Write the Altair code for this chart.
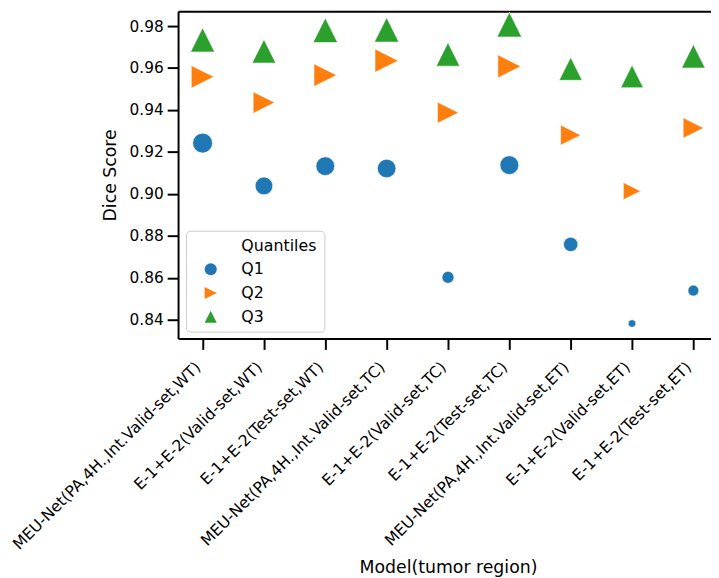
import altair as alt
import pandas as pd

categories = [
    "MEU-Net(PA,4H.,Int.Valid-set,WT)",
    "E-1+E-2(Valid-set,WT)",
    "E-1+E-2(Test-set,WT)",
    "MEU-Net(PA,4H.,Int.Valid-set,TC)",
    "E-1+E-2(Valid-set,TC)",
    "E-1+E-2(Test-set,TC)",
    "MEU-Net(PA,4H.,Int.Valid-set,ET)",
    "E-1+E-2(Valid-set,ET)",
    "E-1+E-2(Test-set,ET)",
]
q1 = [0.9242, 0.9038, 0.9132, 0.9121, 0.8602, 0.9137, 0.8759, 0.8382, 0.8539]
q2 = [0.9558, 0.9435, 0.9566, 0.9635, 0.9387, 0.9608, 0.9280, 0.9013, 0.9314]
q3 = [0.9734, 0.9680, 0.9780, 0.9782, 0.9665, 0.9807, 0.9596, 0.9560, 0.9656]
quantiles = ["Q1", "Q2", "Q3"]
legend_heading = "Quantiles"
colors = ["#1f77b4", "#ff7f0e", "#2ca02c"]
shapes = ["circle", "M1,0L-1,-1L-1,1Z", "M0,-1L1,1L-1,1Z"]
yticks = [0.84, 0.86, 0.88, 0.90, 0.92, 0.94, 0.96, 0.98]

rows = []
for i, c in enumerate(categories):
    for qn, vals in zip(quantiles, [q1, q2, q3]):
        rows.append({"idx": i, "model": c, "Quantiles": qn, "dice": vals[i]})
df = pd.DataFrame(rows)
allv = q1 + q2 + q3

label_expr = "[" + ",".join("'" + c + "'" for c in categories) + "][datum.value]"

W = 539
H = 331
STEP = 62.045
xscale = alt.Scale(domain=[-0.4, -0.4 + W / STEP], nice=False, zero=False)
yscale = alt.Scale(domain=[0.83104, 0.98707], nice=False, zero=False)
FONT = "DejaVu Sans"

# seaborn-style legend: the heading is an entry with an invisible marker
leg_domain = [legend_heading] + quantiles
leg_colors = ["rgba(0,0,0,0)"] + colors
leg_shapes = ["circle"] + shapes

legend = alt.Legend(
    title=None,
    orient="none",
    legendX=8,
    legendY=222,
    padding=7,
    symbolOffset=10,
    labelOffset=23,
    labelFontSize=16,
    labelColor="black",
    labelLimit=300,
    symbolSize=150,
    symbolStrokeWidth=0,
    rowPadding=8,
    strokeColor="#cccccc",
    fillColor="rgba(255,255,255,0.8)",
    cornerRadius=4,
    labelFont=FONT,
)

points = alt.Chart(df).mark_point(
    filled=True, opacity=1, stroke="white", strokeWidth=0.6
).encode(
    x=alt.X(
        "idx:Q",
        scale=xscale,
        axis=alt.Axis(
            values=list(range(len(categories))),
            labelExpr=label_expr,
            labelAngle=-45,
            labelAlign="right",
            labelBaseline="middle",
            labelOffset=-5,
            labelPadding=15,
            labelLimit=500,
            labelFlush=False,
            labelOverlap=False,
            tickSize=11,
            tickWidth=2,
            tickColor="black",
            domainWidth=2,
            domainColor="black",
            labelFontSize=15.8,
            labelColor="black",
            labelFont=FONT,
            title="Model(tumor region)",
            titleFont=FONT,
            titleFontSize=17.5,
            titleFontWeight="normal",
            titleColor="black",
            titleX=273,
            titleY=237,
            titleBaseline="alphabetic",
            grid=False,
        ),
    ),
    y=alt.Y(
        "dice:Q",
        scale=yscale,
        axis=alt.Axis(
            values=yticks,
            format=".2f",
            tickSize=11,
            tickWidth=2,
            tickColor="black",
            domainWidth=2,
            domainColor="black",
            labelPadding=4,
            labelFontSize=15.5,
            labelColor="black",
            labelFont=FONT,
            title="Dice Score",
            titleFont=FONT,
            titleFontSize=17.5,
            titleFontWeight="normal",
            titleColor="black",
            titleX=-63,
            titleY=H / 2,
            titleBaseline="alphabetic",
            grid=False,
        ),
    ),
    color=alt.Color("Quantiles:N", scale=alt.Scale(domain=leg_domain, range=leg_colors), legend=legend),
    shape=alt.Shape("Quantiles:N", scale=alt.Scale(domain=leg_domain, range=leg_shapes), legend=legend),
    size=alt.Size(
        "dice:Q",
        scale=alt.Scale(domain=[min(allv), max(allv)], range=[59, 625], zero=False),
        legend=None,
    ),
)

top = alt.Chart(df).mark_point(opacity=0).encode(
    x=alt.X(
        "idx:Q",
        scale=xscale,
        axis=alt.Axis(
            orient="top",
            labels=False,
            ticks=False,
            domainWidth=2,
            domainColor="black",
            title=None,
            grid=False,
        ),
    )
)

chart = (
    alt.layer(points, top)
    .resolve_axis(x="independent")
    .properties(
        width=W,
        height=H,
        autosize=alt.AutoSizeParams(type="none"),
        padding={"left": 172, "top": 0, "right": 0, "bottom": 244},
    )
    .configure_view(stroke=None)
)

chart.save("out.html", embed_options={"renderer": "svg", "actions": False})
